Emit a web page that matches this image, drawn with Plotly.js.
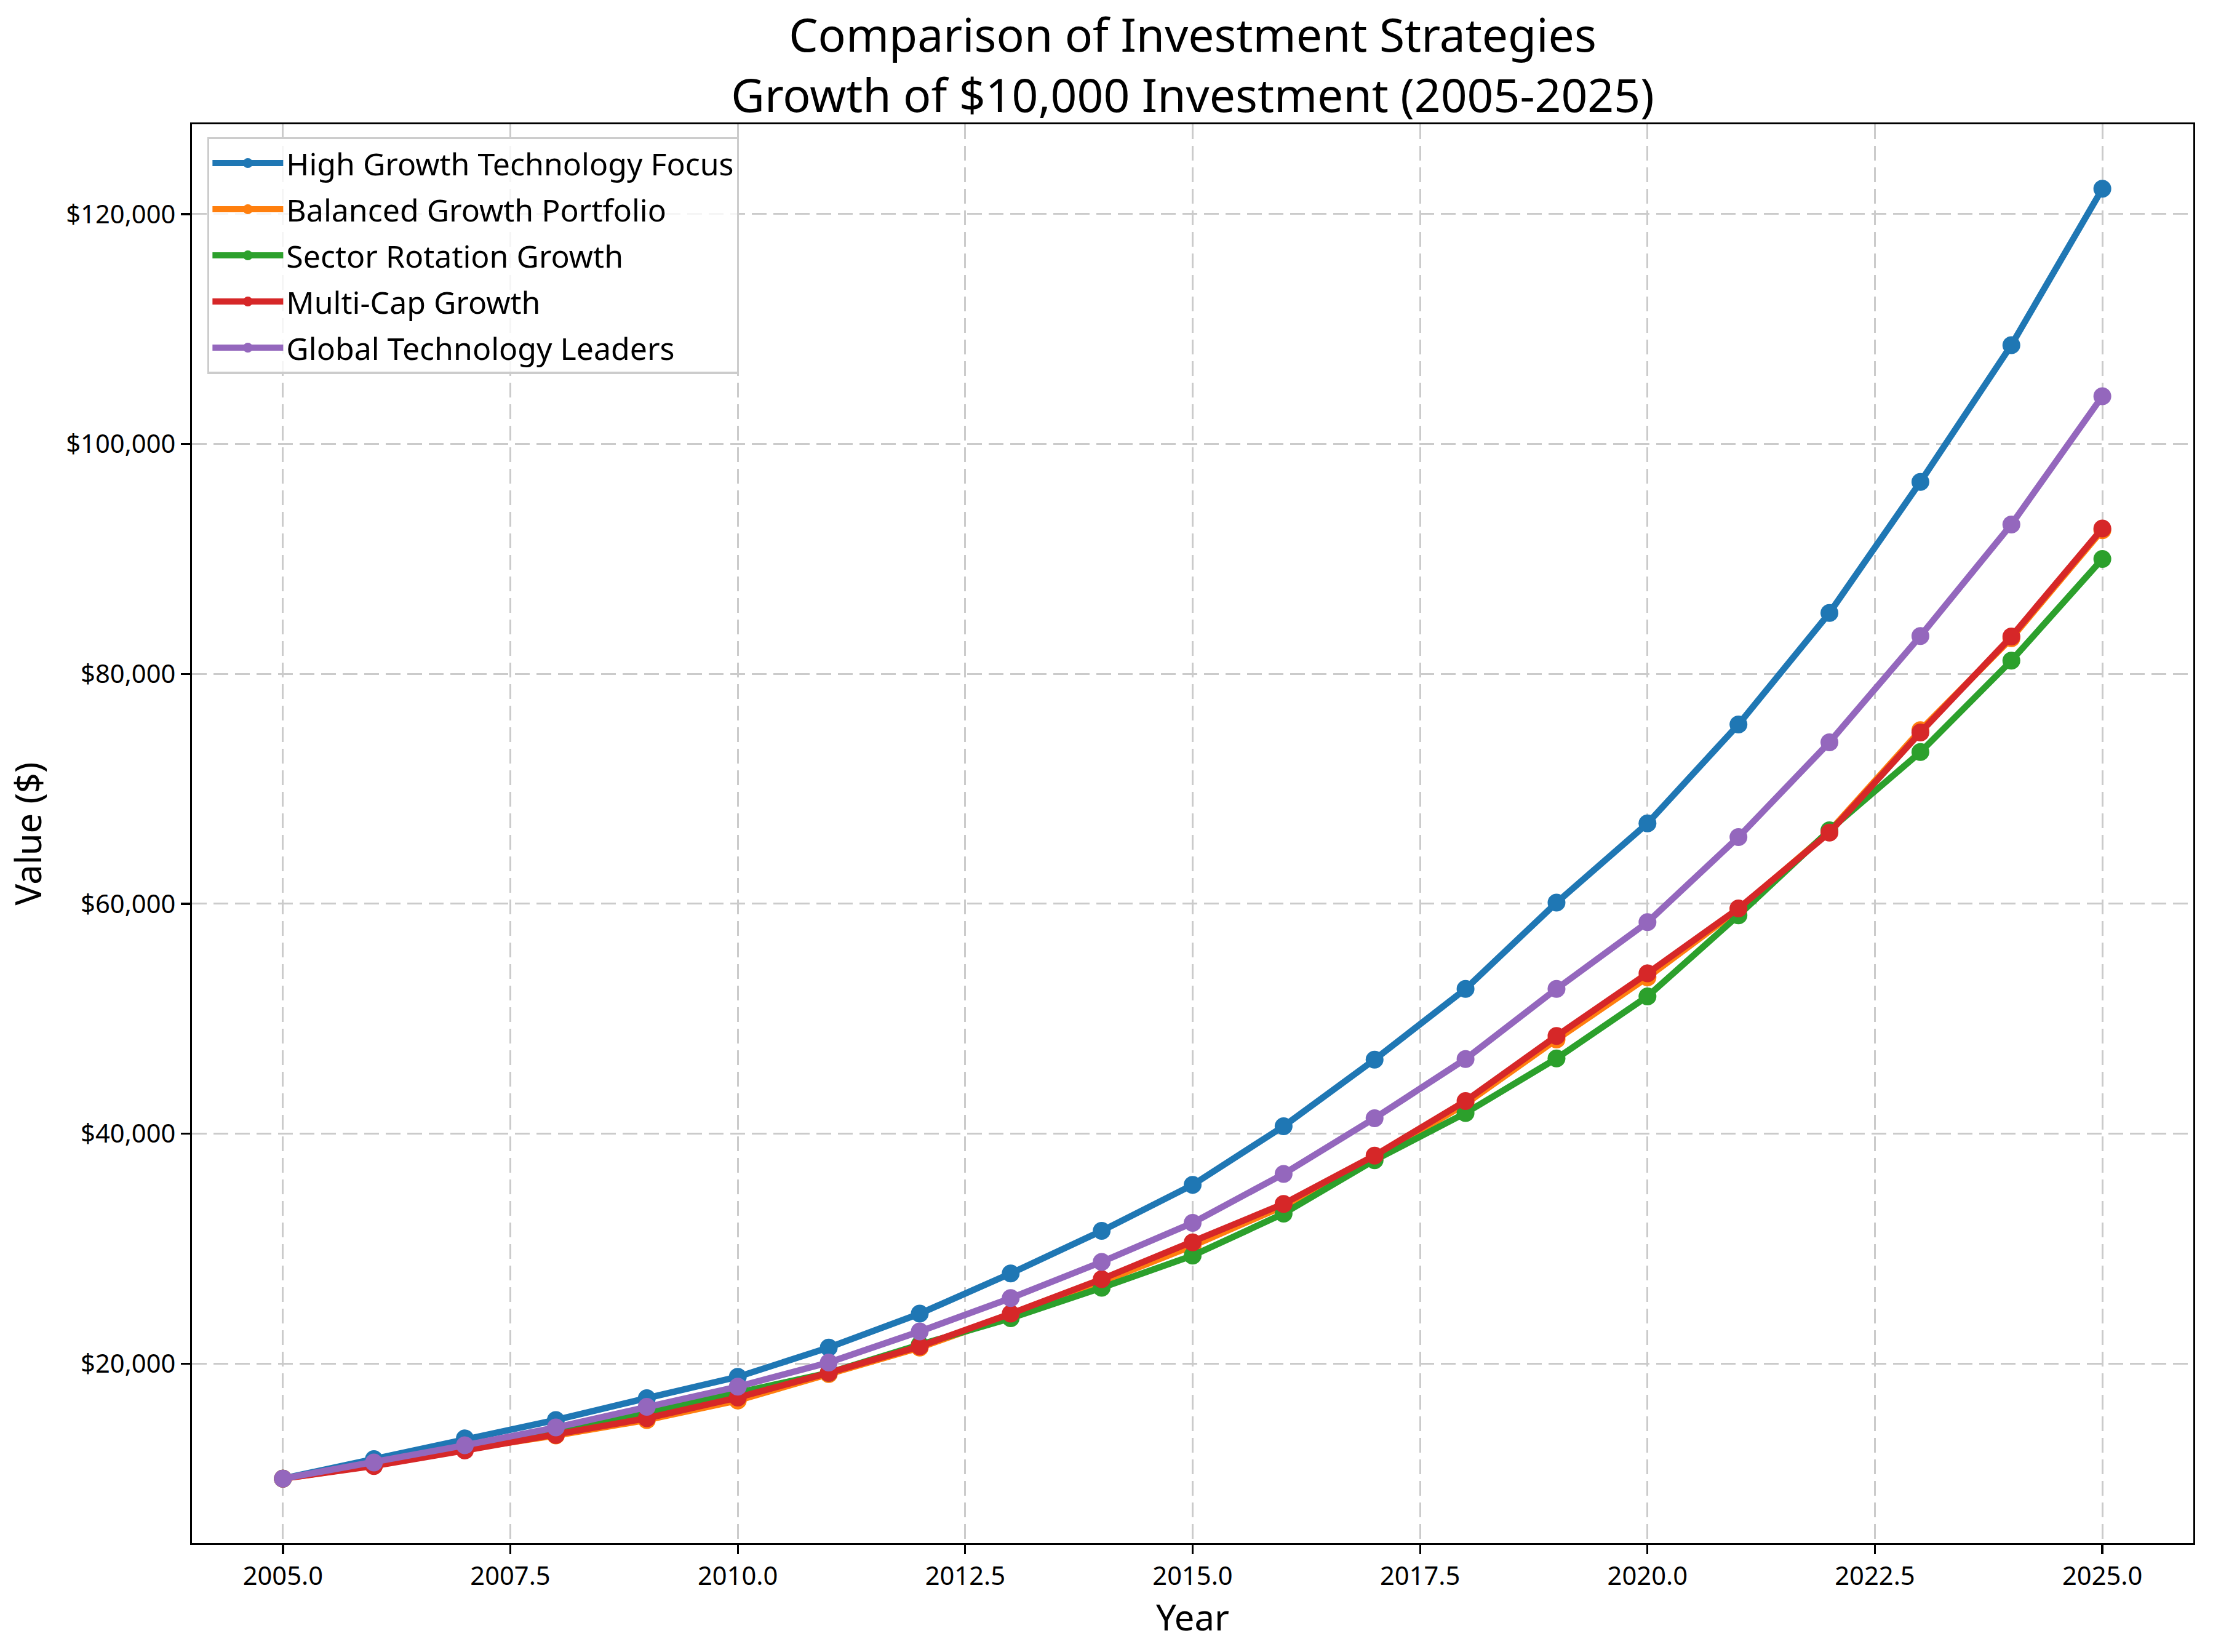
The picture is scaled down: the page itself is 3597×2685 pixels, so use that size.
<!DOCTYPE html>
<html>
<head>
<meta charset="utf-8">
<script src="https://cdn.plot.ly/plotly-3.0.1.min.js"></script>
<style>html,body{margin:0;padding:0;background:#fff;}</style>
</head>
<body>
<div id="chart" style="width:3597px;height:2685px;"></div>
<script>
const years = [2005, 2006, 2007, 2008, 2009, 2010, 2011, 2012, 2013, 2014, 2015, 2016, 2017, 2018, 2019, 2020, 2021, 2022, 2023, 2024, 2025];
const seriesNames = ["High Growth Technology Focus", "Balanced Growth Portfolio", "Sector Rotation Growth", "Multi-Cap Growth", "Global Technology Leaders"];
const highGrowthTech = [10000, 11700, 13500, 15100, 17000, 18850, 21400, 24350, 27850, 31550, 35550, 40650, 46450, 52600, 60100, 67000, 75600, 85300, 96700, 108600, 122200];
const balancedGrowth = [10000, 11150, 12550, 13750, 15100, 16800, 19100, 21400, 24200, 27100, 30250, 33700, 37850, 42600, 48200, 53600, 59500, 66300, 75100, 83100, 92500];
const sectorRotation = [10000, 11300, 12800, 14150, 15750, 17500, 19200, 21650, 23950, 26600, 29400, 33050, 37700, 41800, 46550, 51950, 59000, 66400, 73200, 81150, 90000];
const multiCap = [10000, 11100, 12450, 13800, 15250, 17050, 19200, 21500, 24350, 27350, 30550, 33900, 38100, 42850, 48500, 53950, 59600, 66200, 74900, 83250, 92650];
const globalTech = [10000, 11400, 12900, 14450, 16250, 18000, 20100, 22800, 25700, 28850, 32250, 36500, 41350, 46500, 52600, 58400, 65800, 74050, 83300, 93000, 104150];
const colors = ["#1f77b4", "#ff7f0e", "#2ca02c", "#d62728", "#9467bd"];
const titleText = "Comparison of Investment Strategies<br>Growth of $10,000 Investment (2005-2025)";
const xTitle = "Year";
const yTitle = "Value ($)";

const allSeries = [highGrowthTech, balancedGrowth, sectorRotation, multiCap, globalTech];
const traces = allSeries.map((vals, i) => ({
  x: years,
  y: vals,
  name: seriesNames[i],
  type: "scatter",
  mode: "lines+markers",
  legendgroup: "g" + i,
  line: {color: colors[i], width: 10.4},
  marker: {color: colors[i], size: 29}
}));

let ymin = Infinity, ymax = -Infinity;
allSeries.forEach(s => s.forEach(v => { ymin = Math.min(ymin, v); ymax = Math.max(ymax, v); }));
const ypad = (ymax - ymin) * 0.05;
const xpad = (years[years.length - 1] - years[0]) * 0.05;

const font = "Noto Sans, Open Sans, DejaVu Sans, sans-serif";
const gridStyle = {
  showgrid: true, gridcolor: "#cbcbcb", gridwidth: 3, griddash: "24px,11px",
  zeroline: false, showline: true, mirror: true, linecolor: "black", linewidth: 3.3,
  ticks: "outside", ticklen: 15, tickwidth: 3.3, tickcolor: "black",
  tickfont: {family: font, size: 41.7, color: "black"}
};

const layout = {
  width: 3597, height: 2685,
  margin: {l: 312, r: 32, t: 202, b: 177},
  paper_bgcolor: "white", plot_bgcolor: "white",
  title: {
    text: titleText,
    font: {family: font, size: 75, color: "black"},
    x: 0.5, xref: "paper", xanchor: "center",
    y: 0.9687, yref: "container", yanchor: "middle"
  },
  xaxis: Object.assign({}, gridStyle, {
    range: [years[0] - xpad, years[years.length - 1] + xpad],
    tick0: 2005, dtick: 2.5, tickformat: ".1f",
    title: {text: xTitle, font: {family: font, size: 58, color: "black"}, standoff: 18}
  }),
  yaxis: Object.assign({}, gridStyle, {
    range: [ymin - ypad, ymax + ypad],
    tick0: 0, dtick: 20000, tickprefix: "$", tickformat: ",d",
    title: {text: yTitle, font: {family: font, size: 58, color: "black"}, standoff: 22}
  }),
  legend: {
    x: 0.0077, y: 0.991, xanchor: "left", yanchor: "top",
    bgcolor: "rgba(255,255,255,0.8)", bordercolor: "#cccccc", borderwidth: 3.3,
    font: {family: font, size: 50, color: "black"},
    tracegroupgap: 7, itemwidth: 115, traceorder: "grouped"
  },
  showlegend: true
};

Plotly.newPlot("chart", traces, layout, {displayModeBar: false, staticPlot: true});
</script>
</body>
</html>
